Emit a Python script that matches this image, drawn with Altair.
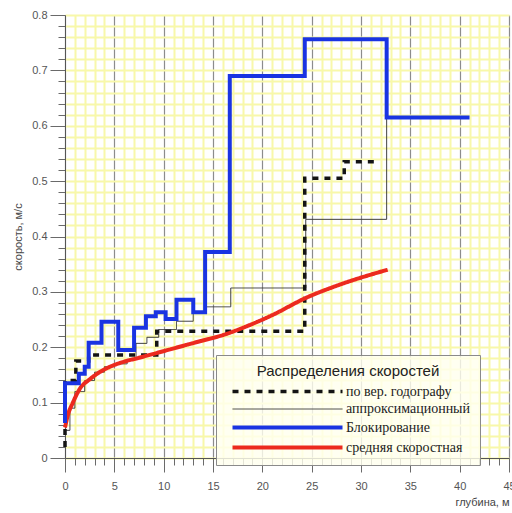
import altair as alt
import pandas as pd

# Series names (legend order)
series_names = [
    "по вер. годографу",
    "аппроксимационный",
    "Блокирование",
    "средняя скоростная",
]

# Vertical hodograph velocities (stepwise)
vsp_depth = [0, 0, 1.1, 2.4, 9.3, 24.3, 28.3, 31.5]
vsp_vel = [0.02, 0.14, 0.175, 0.186, 0.229, 0.505, 0.535, 0.535]

# Approximated interval velocities (stepwise, thin)
appr_depth = [0, 0.5, 1.0, 2.0, 3.0, 4.0, 5.0, 6.3, 7.2, 8.3, 9.5, 11.3, 13.0, 14.2, 16.8, 24.4, 32.6]
appr_vel = [0.05, 0.09, 0.12, 0.14, 0.155, 0.165, 0.17, 0.178, 0.207, 0.218, 0.232, 0.247, 0.263, 0.273, 0.307, 0.431, 0.615]

# Blocked velocities (stepwise, thick blue)
block_depth = [0, 0, 1.4, 2.0, 2.4, 3.7, 5.4, 7.0, 8.2, 9.2, 10.2, 11.3, 13.0, 14.2, 16.7, 24.3, 32.6, 41.0]
block_vel = [0.063, 0.135, 0.152, 0.165, 0.208, 0.246, 0.195, 0.235, 0.256, 0.263, 0.251, 0.286, 0.263, 0.372, 0.69, 0.756, 0.615, 0.615]

# Average velocity curve (smooth red)
avg_depth = [0, 0.3, 0.8, 1.5, 2.5, 3.5, 5.0, 6.0, 7.5, 10.0, 13.5, 16.0, 18.7, 21.0, 24.4, 28.0, 32.7]
avg_vel = [0.055, 0.078, 0.1, 0.125, 0.142, 0.155, 0.168, 0.174, 0.181, 0.193, 0.21, 0.222, 0.24, 0.258, 0.289, 0.314, 0.34]

# Axis tick positions
x_ticks = list(range(0, 46))
y_ticks = [round(i * 0.02, 2) for i in range(41)]


def frame(name, xs, ys):
    return pd.DataFrame({"depth": xs, "vel": ys, "series": name, "idx": list(range(len(xs)))})


df = pd.concat([
    frame(series_names[0], vsp_depth, vsp_vel),
    frame(series_names[1], appr_depth, appr_vel),
    frame(series_names[2], block_depth, block_vel),
    frame(series_names[3], avg_depth, avg_vel),
], ignore_index=True)

color_scale = alt.Scale(domain=series_names, range=["#141414", "#3a3a3a", "#1a34e2", "#ec2a1e"])
dash_scale = alt.Scale(domain=series_names, range=[[6, 6], [1, 0], [1, 0], [1, 0]])
width_scale = alt.Scale(type="ordinal", domain=series_names, range=[3.5, 1, 4, 4])

legend = alt.Legend(
    title="Распределения скоростей",
    orient="none",
    legendX=151,
    legendY=340,
    symbolType="M0,0H20",
    symbolSize=121,
    symbolFillColor="transparent",
    labelOffset=106,
    labelFont="Liberation Serif",
    labelFontSize=14,
    labelColor="#222222",
    labelLimit=300,
    titleFont="Liberation Sans",
    titleFontSize=15,
    titleFontWeight="normal",
    titleColor="#222222",
    titleAnchor="middle",
    titleLimit=400,
    titlePadding=5,
    rowPadding=3,
    padding=9,
    fillColor="rgba(255,255,238,0.82)",
    strokeColor="#8a8a8a",
)

major_x = "datum.value % 5 === 0"
major_y = "round(datum.value * 50) % 5 === 0"

x_axis = alt.Axis(
    values=x_ticks,
    labelExpr=f"{major_x} ? datum.label : ''",
    labelOverlap=False,
    labelFlush=False,
    tickSize={"condition": {"test": major_x, "value": 14}, "value": 7},
    tickColor="#6a6a6a",
    domainColor="#555555",
    grid=True,
    gridColor={"condition": {"test": major_x, "value": "#8c8c8c"}, "value": "#f8f8aa"},
    gridWidth={"condition": {"test": major_x, "value": 1.2}, "value": 2},
    labelFont="Liberation Sans",
    labelFontSize=11,
    labelColor="#555555",
    labelPadding=8,
    title="глубина, м",
    titleFont="Liberation Sans",
    titleFontSize=11,
    titleFontWeight="normal",
    titleColor="#444444",
    titleAnchor="end",
    titlePadding=5,
)

y_axis = alt.Axis(
    values=y_ticks,
    format="~g",
    labelExpr=f"{major_y} ? datum.label : ''",
    labelOverlap=False,
    labelFlush=False,
    tickSize={"condition": {"test": major_y, "value": 15}, "value": 7},
    tickColor="#6a6a6a",
    domainColor="#555555",
    grid=True,
    gridColor="#f8f8aa",
    gridWidth=2,
    labelFont="Liberation Sans",
    labelFontSize=11,
    labelColor="#555555",
    labelPadding=3,
    title="скорость, м/с",
    titleFont="Liberation Sans",
    titleFontSize=11,
    titleFontWeight="normal",
    titleColor="#444444",
    titlePadding=8,
)

base = alt.Chart(df).encode(
    x=alt.X("depth:Q", scale=alt.Scale(domain=[0, 45], nice=False), axis=x_axis),
    y=alt.Y("vel:Q", scale=alt.Scale(domain=[0, 0.8], nice=False), axis=y_axis),
    color=alt.Color("series:N", scale=color_scale, legend=legend),
    strokeDash=alt.StrokeDash("series:N", scale=dash_scale, legend=legend),
    strokeWidth=alt.StrokeWidth("series:N", scale=width_scale, legend=legend),
    order=alt.Order("idx:Q"),
)

thin = base.transform_filter(alt.datum.series == series_names[1]).mark_line(interpolate="step-after")
dashed = base.transform_filter(alt.datum.series == series_names[0]).mark_line(interpolate="step-after", strokeCap="butt")
avg = base.transform_filter(alt.datum.series == series_names[3]).mark_line(interpolate="monotone")
block = base.transform_filter(alt.datum.series == series_names[2]).mark_line(interpolate="step-after")

chart = (
    alt.layer(thin, dashed, avg, block)
    .properties(
        width=444,
        height=443,
        padding={"left": 65, "top": 15, "right": 3, "bottom": 55},
        autosize=alt.AutoSizeParams(type="none"),
        background="white",
    )
    .configure_view(stroke=None)
)

chart.save("out.html", embed_options={"renderer": "svg", "actions": False})
